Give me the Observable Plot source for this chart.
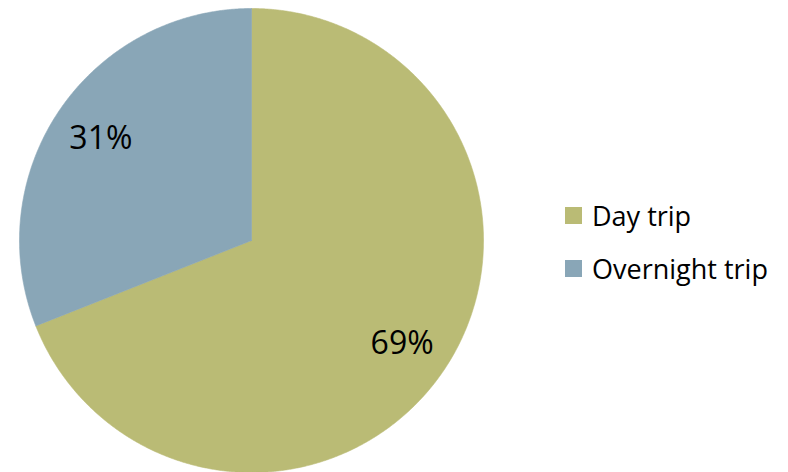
<!DOCTYPE html>
<html>
<head>
<meta charset="utf-8">
<script src="https://cdn.jsdelivr.net/npm/d3@7"></script>
<script src="https://cdn.jsdelivr.net/npm/@observablehq/plot@0.6"></script>
<style>
  html, body { margin: 0; padding: 0; background: #fff; }
  #wrap { position: relative; width: 788px; height: 472px; overflow: hidden; font-family: "Open Sans", sans-serif; }
  #legend { position: absolute; left: 565px; top: 197px; }
  .item { display: flex; align-items: center; height: 36px; margin-bottom: 17px; font-size: 27px; color: #000; }
  .sw { width: 17px; height: 17px; margin-right: 10px; flex: none; }
</style>
</head>
<body>
<div id="wrap"></div>
<script>
const categories = ["Day trip", "Overnight trip"];
const shares = [69, 31];
const colors = ["#BABB75", "#89A6B7"];

const slices = categories.map((label, i) => ({label, value: shares[i]}));
const arcs = d3.pie().value(d => d.value).sort(null)(slices);

// Sample the outline of each slice in unit coordinates (y up, angle clockwise from 12 o'clock)
const outline = [];
for (const a of arcs) {
  const label = a.data.label;
  outline.push({label, x: 0, y: 0});
  const n = Math.max(2, Math.ceil((a.endAngle - a.startAngle) / 0.005));
  for (let k = 0; k <= n; ++k) {
    const t = a.startAngle + (a.endAngle - a.startAngle) * k / n;
    outline.push({label, x: Math.sin(t), y: Math.cos(t)});
  }
  outline.push({label, x: 0, y: 0});
}

const labelRadius = 0.785;
const labels = arcs.map(a => {
  const m = (a.startAngle + a.endAngle) / 2;
  return {label: a.data.label, x: labelRadius * Math.sin(m), y: labelRadius * Math.cos(m), text: `${a.data.value}%`};
});

const plot = Plot.plot({
  width: 788,
  height: 472,
  margin: 0,
  x: {domain: [-1, 1], range: [19, 483], axis: null},
  y: {domain: [-1, 1], range: [472, 8], axis: null},
  color: {domain: categories, range: colors},
  style: {background: "transparent", overflow: "visible"},
  marks: [
    Plot.line(outline, {x: "x", y: "y", z: "label", fill: "label", stroke: "label", strokeWidth: 0.6, curve: "linear"}),
    Plot.text(labels, {x: "x", y: "y", text: "text", fontSize: 32, fill: "#000", fontFamily: "Open Sans", textAnchor: "middle", dy: 1})
  ]
});

const wrap = document.getElementById("wrap");
wrap.appendChild(plot);

const colorScale = plot.scale("color");
const legend = d3.select(wrap).append("div").attr("id", "legend");
const items = legend.selectAll(".item").data(categories).join("div").attr("class", "item");
items.append("div").attr("class", "sw").style("background", d => colorScale.apply(d));
items.append("span").text(d => d);
</script>
</body>
</html>
